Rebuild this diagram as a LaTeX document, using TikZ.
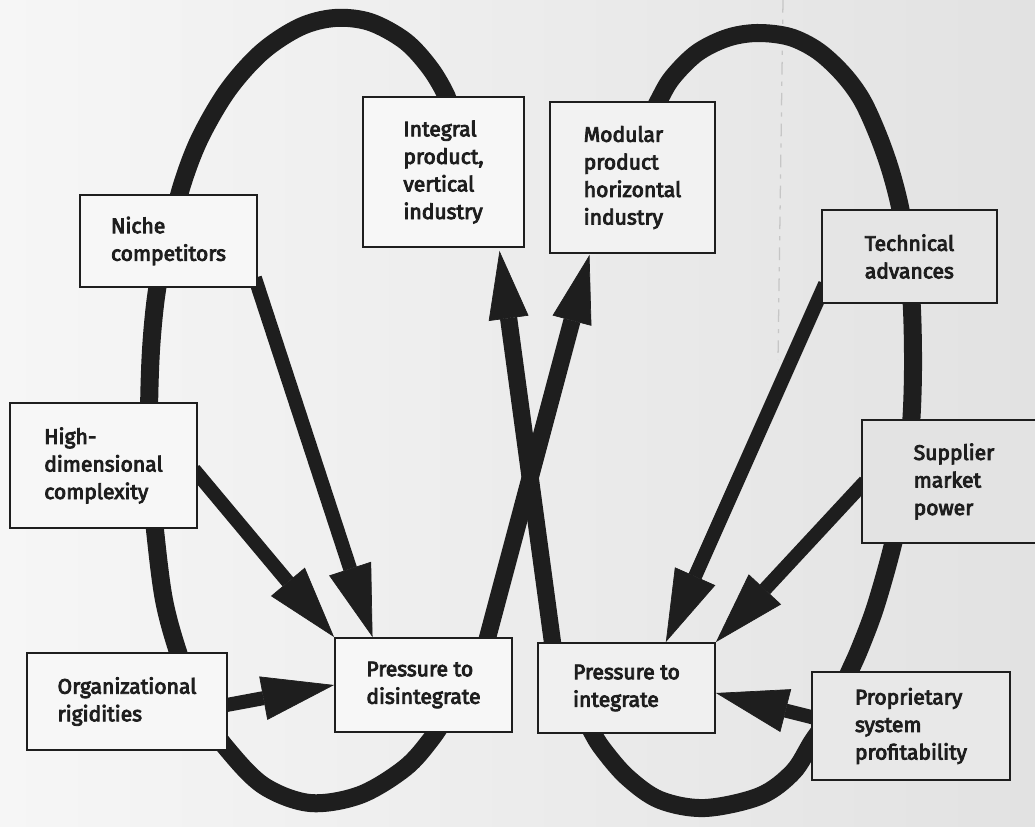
\documentclass[tikz,border=0pt]{standalone}
\usepackage{fontspec}
\setmainfont{Fira Sans}
\newfontfamily\boxfont{Fira Sans}[UprightFeatures={FakeBold=4}]
\usetikzlibrary{arrows.meta,calc}
\pgfdeclarelayer{paper}
\pgfdeclarelayer{links}
\pgfsetlayers{paper,links,main}
\definecolor{ink}{HTML}{1E1E1E}
\definecolor{paperL}{HTML}{F6F6F6}
\definecolor{paperM}{HTML}{EEEEEE}
\definecolor{paperR}{HTML}{E2E2E2}
\newcommand\pxu{0.025cm}

\begin{document}
\begin{tikzpicture}[x=0.025cm, y=-0.025cm,
  box/.style={draw=ink, line width=1.3pt, inner sep=0pt, align=left,
    text=ink, font=\boxfont\fontsize{15pt}{19.6pt}\selectfont},
  helix/.style={draw=ink, line width=0.45cm, line cap=round, line join=round},
  crossarrow/.style={draw=ink, line width=0.43cm, line cap=butt,
    -{Triangle[length=1.7cm, width=1.0cm, line width=0.5pt]}},
  driver/.style={draw=ink, line width=0.35cm, line cap=butt,
    -{Triangle[length=1.8cm, width=1.1cm, line width=0.5pt]}}]

\useasboundingbox (0,0) rectangle (1035,827);

% paper
\begin{pgfonlayer}{paper}
  \shade[left color=paperL, middle color=paperM, right color=paperR]
    (0,0) rectangle (1035,827);
  % faint crease line
  \draw[gray!45, line width=0.9pt, dash pattern=on 9pt off 5pt on 3pt off 5pt]
    (783,0) -- (778,360);
\end{pgfonlayer}

% boxes
\node[box, fill=white!97!black, minimum width=161*\pxu, minimum height=150*\pxu]
  (integral) at (443.5,172) {Integral\\product,\\vertical\\industry};
\node[box, fill=white!95!black, minimum width=165*\pxu, minimum height=151*\pxu]
  (modular) at (632.5,177.5) {Modular\\product\\horizontal\\industry};
\node[box, fill=white!97!black, minimum width=177*\pxu, minimum height=92*\pxu]
  (niche) at (168.5,241) {Niche\\competitors};
\node[box, fill=white!90!black, minimum width=175*\pxu, minimum height=93*\pxu]
  (tech) at (909.5,256.5) {Technical\\advances};
\node[box, fill=white!97!black, minimum width=187*\pxu, minimum height=125*\pxu]
  (high) at (103.5,465.5) {High-\\dimensional\\complexity};
\node[box, fill=white!89!black, minimum width=184*\pxu, minimum height=123*\pxu]
  (supplier) at (954,481.5) {Supplier\\market\\power};
\node[box, fill=white!97!black, minimum width=200*\pxu, minimum height=97*\pxu]
  (org) at (127,701.5) {Organizational\\rigidities};
\node[box, fill=white!97!black, minimum width=177*\pxu, minimum height=94*\pxu]
  (pdis) at (423.5,685) {Pressure to\\disintegrate};
\node[box, fill=white!94!black, minimum width=177*\pxu, minimum height=90*\pxu]
  (pint) at (626.5,688) {Pressure to\\integrate};
\node[box, fill=white!91!black, minimum width=198*\pxu, minimum height=108*\pxu]
  (prop) at (911,726) {Proprietary\\system\\profitability};

\begin{pgfonlayer}{links}
  % left loop: integral product -> niche -> high-dim -> organizational -> disintegrate
  \draw[helix] plot[smooth, tension=0.55] coordinates {
    ($(integral.north)+(8,20)$) ($(integral.north)+(3,0)$)
    (430,68) (405,41) (370,22) (335,18) (300,27) (262,52) (228,90) (200,138)
    (182,185) (168,240) (157,290) (151,350) (149,420) (151,480) (155,530)
    (164,600) (179,655) (200,710) (228,750) (264,786) (310,803) (360,795)
    (405,768) (432,738) ($(pdis.south)+(28,-25)$)};
  % right loop: modular product -> technical -> supplier -> proprietary -> integrate
  \draw[helix] plot[smooth, tension=0.55] coordinates {
    ($(modular.north)+(18,16)$) ($(modular.north)+(26,0)$)
    (672,78) (697,53) (727,38) (757,33) (790,37) (818,51) (843,74) (862,100)
    (878,135) (891,172) (901,212) (908,260) (912,310) (913,370) (911,425)
    (905,480) (894,540) (876,605) (860,648) (848,675) (830,715) (812,742)
    (793,772) (760,796) (705,808) (660,800) (627,777) (602,748) (590,728)
    ($(pint.south)+(-46,-25)$)};

  % crossing arrows
  \draw[crossarrow] ($(pdis.north)+(61,12)$) -- ($(modular.south)+(-43,1)$);
  \draw[crossarrow] ($(pint.north west)+(17,12)$) -- ($(integral.south)+(56,3)$);

  % drivers of disintegration
  \draw[driver] ($(niche.south east)+(-3,-10)$)
    -- ($(pdis.north west)!0.215!(pdis.north east)$);
  \draw[driver] ($(high.east)+(-4,4)$) -- (pdis.north west);
  \draw[driver] ($(org.east)+(-4,4)$) -- (pdis.west);

  % drivers of integration
  \draw[driver] ($(tech.south west)+(4,-20)$)
    -- ($(pint.north west)!0.72!(pint.north east)$);
  \draw[driver] ($(supplier.west)+(4,0)$) -- (pint.north east);
  \draw[driver] ($(prop.west)+(4,-8)$) -- ($(pint.east)+(0,5)$);
\end{pgfonlayer}
\end{tikzpicture}
\end{document}
